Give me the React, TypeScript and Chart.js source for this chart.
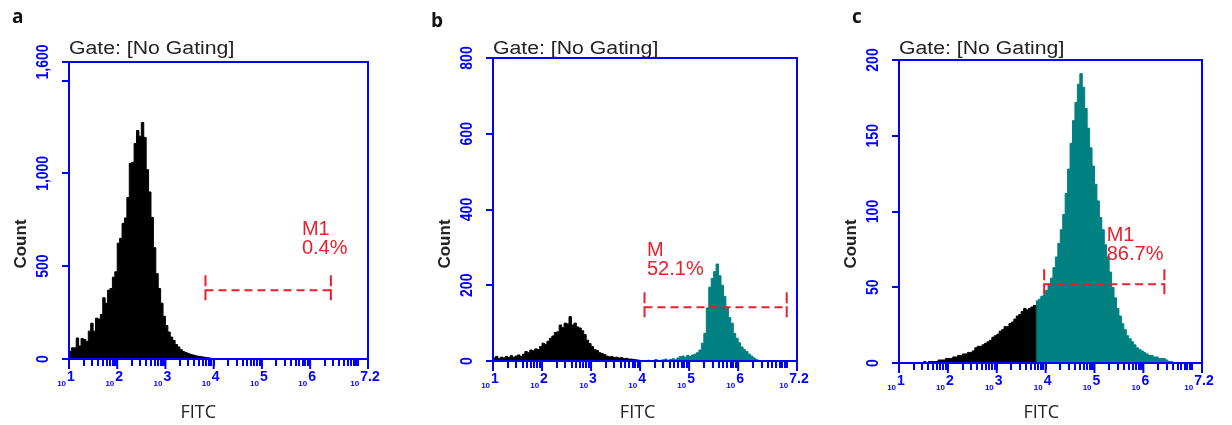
import React, { useEffect, useRef } from 'react';
import { Chart, registerables } from 'chart.js';

Chart.register(...registerables);

// ---------- data ----------
const BIN_WIDTH_LOG = 0.05; // histogram bin width in log10(FITC) units
const X_MIN_EXP = 1;
const X_MAX_EXP = 7.2;
const X_LABEL_EXPONENTS = [1, 2, 3, 4, 5, 6, 7.2];
const X_LABEL_TEXTS = ['1', '2', '3', '4', '5', '6', '7.2'];

// panel a (bins start at 10^1.00)
const A_START_LOG = 1.0;
const A_COUNTS = [
  40, 60, 60, 113, 70, 110, 105, 95, 150, 193,
  150, 220, 215, 240, 330, 300, 371, 380, 441, 470,
  624, 650, 731, 760, 870, 1054, 1060, 1161, 1231, 1200,
  1274, 1194, 1020, 900, 763, 600, 460, 380, 301, 230,
  180, 145, 118, 100, 78, 65, 50, 40, 35, 30,
  25, 22, 18, 15, 13, 11, 9, 7, 5, 3,
];
const A_SPLIT_LOG = 7.2;
const A_Y_MAX = 1600;
const A_Y_TICKS = [0, 500, 1000, 1500, 1600];
const A_Y_LABEL_VALUES = [0, 500, 1000, 1600];
const A_Y_LABELS = ['0', '500', '1,000', '1,600'];
const A_GATE = { fromLog: 3.83, toLog: 6.43, count: 371 };
const A_GATE_TEXT = ['M1', '0.4%'];
const A_GATE_TEXT_AT = { log: 5.83, count: 753 };

// panel b
const B_START_LOG = 1.0;
const B_COUNTS = [
  8, 12, 6, 10, 8, 12, 9, 14, 10, 13,
  16, 12, 18, 25, 22, 29, 27, 32, 30, 38,
  47, 44, 52, 60, 66, 75, 77, 95, 88, 100,
  98, 117, 95, 100, 90, 87, 80, 70, 55, 46,
  38, 30, 28, 22, 20, 17, 13, 11, 12, 9,
  10, 8, 9, 6, 7, 5, 5, 4, 3, 2,
  1, 0, 0, 2, 0, 1, 4, 0, 2, 3,
  5, 2, 4, 6, 3, 8, 12, 13, 10, 15,
  12, 16, 18, 22, 29, 47, 73, 140, 195, 218,
  236, 256, 225, 200, 170, 140, 115, 100, 73, 60,
  48, 37, 30, 25, 18, 13, 8, 4, 1,
];
const B_SPLIT_LOG = 4.1;
const B_Y_MAX = 800;
const B_Y_TICKS = [0, 200, 400, 600, 800];
const B_Y_LABEL_VALUES = [0, 200, 400, 600, 800];
const B_Y_LABELS = ['0', '200', '400', '600', '800'];
const B_GATE = { fromLog: 4.09, toLog: 6.99, count: 142 };
const B_GATE_TEXT = ['M', '52.1%'];
const B_GATE_TEXT_AT = { log: 4.14, count: 319 };

// panel c
const C_START_LOG = 1.5;
const C_COUNTS = [
  1, 0, 1, 1, 1, 1, 2, 2, 2, 3,
  3, 3, 4, 4, 5, 5, 6, 6, 7, 7,
  8, 10, 11, 11, 12, 13, 14, 15, 17, 18,
  19, 21, 22, 24, 24, 26, 27, 29, 31, 32,
  34, 36, 35, 36, 37, 38, 41, 42, 44, 45,
  48, 52, 56, 63, 70, 79, 88, 98, 112, 128,
  145, 160, 172, 184, 191, 182, 168, 155, 142, 130,
  118, 107, 96, 88, 78, 70, 60, 50, 43, 36,
  31, 26, 22, 18, 16, 14, 12, 10, 9, 8,
  7, 6, 5, 5, 4, 4, 3, 3, 3, 2, 1, 1,
];
const C_SPLIT_LOG = 3.8;
const C_Y_MAX = 200;
const C_Y_TICKS = [0, 50, 100, 150, 200];
const C_Y_LABEL_VALUES = [0, 50, 100, 150, 200];
const C_Y_LABELS = ['0', '50', '100', '150', '200'];
const C_GATE = { fromLog: 3.97, toLog: 6.43, count: 52 };
const C_GATE_TEXT = ['M1', '86.7%'];
const C_GATE_TEXT_AT = { log: 5.25, count: 91 };

const TITLE_TEXT = 'Gate: [No Gating]';
const X_TITLE = 'FITC';
const Y_TITLE = 'Count';

// ---------- styles ----------
const BLUE = '#0000ff';
const RED = '#e8202e';
const TEAL = '#008080';
const BLACK = '#000000';
const SANS = '"Liberation Sans", Arial, sans-serif';
const CANVAS_H = 425;

type Panel = {
  letter: string;
  letterX: number;
  letterBaseline: number;
  canvasLeft: number;
  canvasWidth: number;
  area: { l: number; t: number; r: number; b: number };
  startLog: number;
  counts: number[];
  splitLog: number;
  yMax: number;
  yTicks: number[];
  yLabelValues: number[];
  yLabels: string[];
  gate: { fromLog: number; toLog: number; count: number };
  gateText: string[];
  gateTextAt: { log: number; count: number };
  xTitleLog: number;
};

const PANELS: Panel[] = [
  {
    letter: 'a', letterX: 12, letterBaseline: 23, canvasLeft: 0, canvasWidth: 410,
    area: { l: 69, t: 62, r: 368, b: 359 },
    startLog: A_START_LOG, counts: A_COUNTS, splitLog: A_SPLIT_LOG,
    yMax: A_Y_MAX, yTicks: A_Y_TICKS, yLabelValues: A_Y_LABEL_VALUES, yLabels: A_Y_LABELS,
    gate: A_GATE, gateText: A_GATE_TEXT, gateTextAt: A_GATE_TEXT_AT, xTitleLog: 3.68,
  },
  {
    letter: 'b', letterX: 21, letterBaseline: 27, canvasLeft: 410, canvasWidth: 410,
    area: { l: 83, t: 58, r: 387, b: 361 },
    startLog: B_START_LOG, counts: B_COUNTS, splitLog: B_SPLIT_LOG,
    yMax: B_Y_MAX, yTicks: B_Y_TICKS, yLabelValues: B_Y_LABEL_VALUES, yLabels: B_Y_LABELS,
    gate: B_GATE, gateText: B_GATE_TEXT, gateTextAt: B_GATE_TEXT_AT, xTitleLog: 3.95,
  },
  {
    letter: 'c', letterX: 32, letterBaseline: 23, canvasLeft: 820, canvasWidth: 412,
    area: { l: 79, t: 60, r: 382, b: 363 },
    startLog: C_START_LOG, counts: C_COUNTS, splitLog: C_SPLIT_LOG,
    yMax: C_Y_MAX, yTicks: C_Y_TICKS, yLabelValues: C_Y_LABEL_VALUES, yLabels: C_Y_LABELS,
    gate: C_GATE, gateText: C_GATE_TEXT, gateTextAt: C_GATE_TEXT_AT, xTitleLog: 3.91,
  },
];

function xTickValues(): number[] {
  const out: number[] = [];
  for (let e = X_MIN_EXP; e < Math.floor(X_MAX_EXP); e++) {
    for (let m = 1; m <= 9; m++) out.push(m * Math.pow(10, e));
  }
  out.push(Math.pow(10, Math.floor(X_MAX_EXP)));
  out.push(Math.pow(10, X_MAX_EXP));
  return out;
}

function buildSeries(startLog: number, counts: number[], splitLog: number) {
  const edge = (i: number) => Math.pow(10, startLog + i * BIN_WIDTH_LOG);
  const k = Math.max(0, Math.min(counts.length, Math.round((splitLog - startLog) / BIN_WIDTH_LOG)));
  const below = counts.slice(0, k).map((c, i) => ({ x: edge(i), y: c }));
  if (k > 0) below.push({ x: edge(k), y: 0 });
  const above = counts.slice(k).map((c, j) => ({ x: edge(k + j), y: c }));
  if (k < counts.length) above.push({ x: edge(counts.length), y: 0 });
  return { below, above };
}

function stretchedText(ctx: CanvasRenderingContext2D, text: string, x: number, y: number, sx: number, align: CanvasTextAlign) {
  ctx.save();
  ctx.translate(x, y);
  ctx.scale(sx, 1);
  ctx.textAlign = align;
  ctx.fillText(text, 0, 0);
  ctx.restore();
}

function drawOverlay(chart: any, panel: Panel) {
  const ctx: CanvasRenderingContext2D = chart.ctx;
  const { left, top, right, bottom } = chart.chartArea;
  const xs = chart.scales.x;
  const ys = chart.scales.y;
  ctx.save();

  // plot box
  ctx.strokeStyle = BLUE;
  ctx.lineWidth = 2;
  ctx.setLineDash([]);
  ctx.strokeRect(left, top, right - left, bottom - top);

  // longer ticks at the decades
  X_LABEL_EXPONENTS.forEach((e) => {
    const x = xs.getPixelForValue(Math.pow(10, e));
    ctx.beginPath();
    ctx.moveTo(x, bottom);
    ctx.lineTo(x, bottom + 10);
    ctx.stroke();
  });

  // y tick labels (rotated)
  ctx.fillStyle = BLUE;
  ctx.font = `bold 14px ${SANS}`;
  panel.yLabelValues.forEach((v, i) => {
    const y = ys.getPixelForValue(v);
    ctx.save();
    ctx.translate(left - 25, y);
    ctx.rotate(-Math.PI / 2);
    ctx.scale(1, 1.15);
    ctx.textAlign = 'center';
    ctx.textBaseline = 'middle';
    ctx.fillText(panel.yLabels[i], 0, 0);
    ctx.restore();
  });

  // x tick labels 10^n
  const small = `bold 8px ${SANS}`;
  const big = `bold 14px ${SANS}`;
  ctx.textBaseline = 'alphabetic';
  ctx.textAlign = 'left';
  X_LABEL_EXPONENTS.forEach((e, i) => {
    const x = xs.getPixelForValue(Math.pow(10, e));
    ctx.font = small;
    const wb = ctx.measureText('10').width;
    ctx.font = big;
    const we = ctx.measureText(X_LABEL_TEXTS[i]).width;
    const x0 = x - 3 - (wb + 1 + we) / 2;
    ctx.font = small;
    ctx.fillText('10', x0, bottom + 27);
    ctx.font = big;
    ctx.fillText(X_LABEL_TEXTS[i], x0 + wb + 1, bottom + 22);
  });

  // title
  ctx.fillStyle = '#222222';
  ctx.font = `18px ${SANS}`;
  stretchedText(ctx, TITLE_TEXT, left, 54, 1.18, 'left');

  // panel letter
  ctx.fillStyle = '#111111';
  ctx.font = `bold 19px "Open Sans", "Noto Sans", sans-serif`;
  ctx.textAlign = 'left';
  ctx.fillText(panel.letter, panel.letterX, panel.letterBaseline);

  // y title
  ctx.save();
  ctx.translate(left - 48, 244);
  ctx.rotate(-Math.PI / 2);
  ctx.font = `bold 17px ${SANS}`;
  ctx.fillStyle = '#222222';
  ctx.textAlign = 'center';
  ctx.textBaseline = 'middle';
  ctx.fillText(Y_TITLE, 0, 0);
  ctx.restore();

  // x title
  ctx.font = `18px "Open Sans", "Noto Sans", sans-serif`;
  ctx.fillStyle = '#222222';
  ctx.textAlign = 'center';
  ctx.fillText(X_TITLE, xs.getPixelForValue(Math.pow(10, panel.xTitleLog)), 418);

  // gate marker
  const gx1 = xs.getPixelForValue(Math.pow(10, panel.gate.fromLog));
  const gx2 = xs.getPixelForValue(Math.pow(10, panel.gate.toLog));
  const gy = ys.getPixelForValue(panel.gate.count);
  ctx.strokeStyle = RED;
  ctx.lineWidth = 2;
  ctx.setLineDash([8, 5]);
  ctx.beginPath();
  ctx.moveTo(gx1, gy);
  ctx.lineTo(gx2, gy);
  ctx.stroke();
  ctx.setLineDash([11, 3]);
  [gx1, gx2].forEach((gx) => {
    ctx.beginPath();
    ctx.moveTo(gx, gy - 15);
    ctx.lineTo(gx, gy + 12);
    ctx.stroke();
  });
  ctx.setLineDash([]);

  // gate text
  ctx.fillStyle = RED;
  ctx.font = `20px ${SANS}`;
  ctx.textAlign = 'left';
  ctx.textBaseline = 'top';
  const tx = xs.getPixelForValue(Math.pow(10, panel.gateTextAt.log));
  const ty = ys.getPixelForValue(panel.gateTextAt.count);
  ctx.fillText(panel.gateText[0], tx, ty);
  ctx.fillText(panel.gateText[1], tx, ty + 19);

  ctx.restore();
}

function createPanelChart(canvas: HTMLCanvasElement, panel: Panel): Chart {
  const { below, above } = buildSeries(panel.startLog, panel.counts, panel.splitLog);
  const ticksX = xTickValues();
  const area = panel.area;
  const gridOpts = {
    display: true,
    drawOnChartArea: false,
    drawTicks: true,
    color: BLUE,
    lineWidth: 2,
  };
  return new Chart(canvas, {
    type: 'line',
    data: {
      datasets: [
        {
          data: below,
          stepped: 'before',
          fill: 'origin',
          backgroundColor: BLACK,
          borderColor: BLACK,
          borderWidth: 1,
          pointRadius: 0,
        },
        {
          data: above,
          stepped: 'before',
          fill: 'origin',
          backgroundColor: TEAL,
          borderColor: TEAL,
          borderWidth: 1,
          pointRadius: 0,
        },
      ],
    },
    options: {
      responsive: false,
      animation: false,
      events: [],
      layout: { padding: { left: 0, top: area.t, right: panel.canvasWidth - area.r, bottom: 0 } },
      plugins: { legend: { display: false }, tooltip: { enabled: false }, title: { display: false } },
      scales: {
        x: {
          type: 'logarithmic',
          min: Math.pow(10, X_MIN_EXP),
          max: Math.pow(10, X_MAX_EXP),
          afterFit: (s: any) => { s.height = CANVAS_H - area.b; },
          afterBuildTicks: (s: any) => { s.ticks = ticksX.map((v) => ({ value: v })); },
          ticks: { display: false, autoSkip: false },
          grid: { ...gridOpts, tickLength: 7 },
          border: { display: false },
        },
        y: {
          type: 'linear',
          min: 0,
          max: panel.yMax,
          afterFit: (s: any) => { s.width = area.l; },
          afterBuildTicks: (s: any) => { s.ticks = panel.yTicks.map((v) => ({ value: v })); },
          ticks: { display: false, autoSkip: false },
          grid: { ...gridOpts, tickLength: 7 },
          border: { display: false },
        },
      },
    } as any,
    plugins: [
      {
        id: 'flowOverlay',
        afterDraw: (chart: any) => drawOverlay(chart, panel),
      },
    ],
  });
}

export default function App() {
  const r0 = useRef<HTMLCanvasElement>(null);
  const r1 = useRef<HTMLCanvasElement>(null);
  const r2 = useRef<HTMLCanvasElement>(null);
  const refs = [r0, r1, r2];

  useEffect(() => {
    const charts = PANELS.map((p, i) => createPanelChart(refs[i].current as HTMLCanvasElement, p));
    return () => charts.forEach((c) => c.destroy());
  }, []);

  return (
    <div style={{ position: 'absolute', left: 0, top: 0, width: 1232, height: CANVAS_H, background: '#ffffff' }}>
      {PANELS.map((p, i) => (
        <canvas
          key={p.letter}
          ref={refs[i]}
          width={p.canvasWidth}
          height={CANVAS_H}
          style={{ position: 'absolute', left: p.canvasLeft, top: 0, width: p.canvasWidth, height: CANVAS_H }}
        />
      ))}
    </div>
  );
}
